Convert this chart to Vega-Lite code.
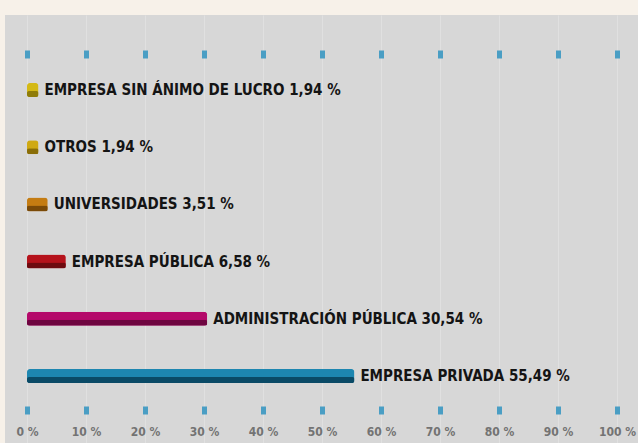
{
  "$schema": "https://vega.github.io/schema/vega-lite/v6.json",
  "width": 633,
  "height": 428,
  "autosize": {"type": "none"},
  "padding": {"left": 5, "top": 15, "right": 0, "bottom": 0},
  "background": "#f7f1e9",
  "config": {"view": {"fill": "#d7d7d7", "stroke": null}},
  "data": {
    "values": [
      {"cat": "Empresa sin ánimo de lucro", "value": 1.94, "label": "EMPRESA SIN ÁNIMO DE LUCRO 1,94 %"},
      {"cat": "Otros", "value": 1.94, "label": "OTROS 1,94 %"},
      {"cat": "Universidades", "value": 3.51, "label": "UNIVERSIDADES 3,51 %"},
      {"cat": "Empresa pública", "value": 6.58, "label": "EMPRESA PÚBLICA 6,58 %"},
      {"cat": "Administración pública", "value": 30.54, "label": "ADMINISTRACIÓN PÚBLICA 30,54 %"},
      {"cat": "Empresa privada", "value": 55.49, "label": "EMPRESA PRIVADA 55,49 %"}
    ]
  },
  "encoding": {
    "y": {
      "field": "cat",
      "type": "nominal",
      "sort": null,
      "axis": null,
      "scale": {"paddingInner": 0, "paddingOuter": 0.741}
    }
  },
  "layer": [
    {
      "mark": {"type": "bar", "size": 14, "cornerRadius": 3, "yOffset": 4},
      "encoding": {
        "x": {
          "field": "value",
          "type": "quantitative",
          "scale": {"domain": [-3.73, 103.56], "nice": false, "zero": false},
          "axis": {
            "orient": "bottom",
            "offset": -37,
            "values": [0, 10, 20, 30, 40, 50, 60, 70, 80, 90, 100],
            "domain": false,
            "ticks": true,
            "tickColor": "#4a9ec4",
            "tickWidth": 5,
            "tickSize": 8,
            "labelExpr": "datum.value + ' %'",
            "labelFont": "DejaVu Sans Condensed, sans-serif",
            "labelFontWeight": "bold",
            "labelFontSize": 12,
            "labelColor": "#737373",
            "labelPadding": 12,
            "grid": true,
            "gridColor": "#e0e0e0",
            "gridWidth": 1,
            "title": null
          }
        },
        "color": {
          "field": "cat",
          "type": "nominal",
          "legend": null,
          "scale": {
            "domain": ["Empresa sin ánimo de lucro", "Otros", "Universidades", "Empresa pública", "Administración pública", "Empresa privada"],
            "range": ["#d4b915", "#cfa913", "#c47c12", "#b5121b", "#b4096a", "#1d86b0"]
          }
        }
      }
    },
    {
      "mark": {"type": "bar", "size": 6, "cornerRadius": 2, "yOffset": 8},
      "encoding": {
        "x": {
          "field": "value",
          "type": "quantitative",
          "axis": null
        },
        "color": {
          "field": "cat",
          "type": "nominal",
          "legend": null,
          "scale": {
            "domain": ["Empresa sin ánimo de lucro", "Otros", "Universidades", "Empresa pública", "Administración pública", "Empresa privada"],
            "range": ["#8f7c08", "#8a6e08", "#7a4a08", "#6e0a0f", "#6e0540", "#0a4a66"]
          }
        }
      }
    },
    {
      "mark": {
        "type": "text",
        "align": "left",
        "baseline": "middle",
        "dx": 6,
        "yOffset": 4,
        "font": "DejaVu Sans Condensed, sans-serif",
        "fontWeight": "bold",
        "fontSize": 15,
        "color": "#141414"
      },
      "encoding": {
        "x": {
          "field": "value",
          "type": "quantitative",
          "axis": {
            "orient": "top",
            "offset": -43,
            "values": [0, 10, 20, 30, 40, 50, 60, 70, 80, 90, 100],
            "domain": false,
            "labels": false,
            "grid": false,
            "ticks": true,
            "tickColor": "#4a9ec4",
            "tickWidth": 5,
            "tickSize": 8,
            "title": null
          }
        },
        "text": {"field": "label"}
      }
    }
  ],
  "resolve": {"axis": {"x": "independent"}, "scale": {"color": "independent"}}
}
